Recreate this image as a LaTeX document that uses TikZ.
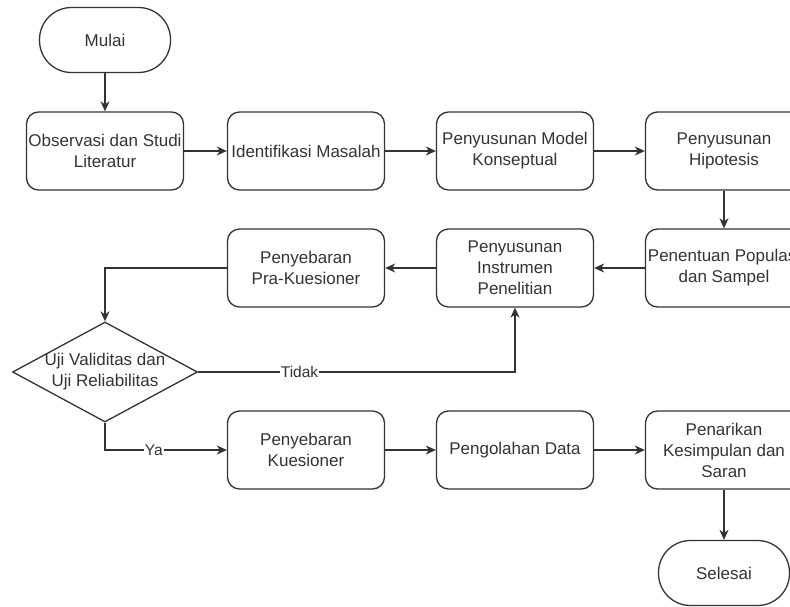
\documentclass[tikz,border=0pt]{standalone}
\usepackage{fontspec}
\setmainfont{Liberation Sans}
\usetikzlibrary{positioning,shapes.geometric,arrows.meta}

\begin{document}
\begin{tikzpicture}
    [>={Stealth[length=10pt,width=9pt,inset=3pt]}, node distance = 209pt, on grid,
     line width = 1.3pt, color = black!80,
     process/.style = {draw, rounded corners=12pt, minimum width=157pt, minimum height=78pt,
                       inner sep=1pt, align=center, font=\fontsize{17}{21}\selectfont},
     terminal/.style = {draw, rounded corners=32pt, minimum width=131pt, minimum height=65pt,
                        font=\fontsize{17}{21}\selectfont},
     decision/.style = {draw, diamond, aspect=1.85, minimum width=185pt, minimum height=100pt,
                        inner sep=-6pt, align=center, font=\fontsize{17}{21}\selectfont},
     edgelabel/.style = {fill=white, inner sep=1pt, font=\fontsize{15.5}{18}\selectfont}]
\useasboundingbox (0,0) rectangle (790pt,-606pt);

\node[process](obs) at (105pt,-151pt) {Observasi dan Studi\\Literatur};
\node[terminal](mulai)[above = 111pt of obs]{Mulai};
\node[process](ident)[right = 201pt of obs]{Identifikasi Masalah};
\node[process](model)[right = of ident]{Penyusunan Model\\Konseptual};
\node[process](hipo)[right = of model]{Penyusunan\\Hipotesis};
\node[process](popul)[below = 117pt of hipo]{Penentuan Populasi\\dan Sampel};
\node[process](instr)[left = of popul]{Penyusunan\\Instrumen\\Penelitian};
\node[process](prakues)[left = of instr]{Penyebaran\\Pra-Kuesioner};
\node[decision](uji)[below = 221pt of obs]{Uji Validitas dan\\Uji Reliabilitas};
\node[process](kues)[below = 182pt of prakues]{Penyebaran\\Kuesioner};
\node[process](olah)[right = of kues]{Pengolahan Data};
\node[process](tarik)[right = of olah]{Penarikan\\Kesimpulan dan\\Saran};
\node[terminal](selesai)[below = 123pt of tarik]{Selesai};

\path[->]
    (mulai) edge (obs)
    (obs) edge (ident)
    (ident) edge (model)
    (model) edge (hipo)
    (hipo) edge (popul)
    (popul) edge (instr)
    (instr) edge (prakues)
    (kues) edge (olah)
    (olah) edge (tarik)
    (tarik) edge (selesai);

\draw[->] (prakues.west) -| (uji.north);
\draw[->] (uji.east) -| node[edgelabel, pos=0.16]{Tidak} (instr.south);
\draw[->] (uji.south) |- node[edgelabel, pos=0.7]{Ya} (kues.west);
\end{tikzpicture}
\end{document}
